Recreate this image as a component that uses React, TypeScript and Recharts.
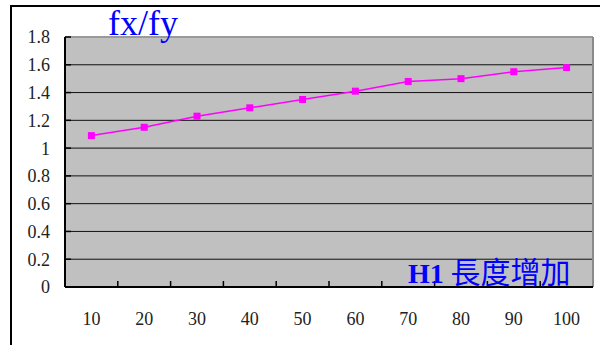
import { ComposedChart, Line, XAxis, YAxis, CartesianGrid, ReferenceLine } from 'recharts'

const lengths = ['10', '20', '30', '40', '50', '60', '70', '80', '90', '100']
const ratio = [1.09, 1.15, 1.23, 1.29, 1.35, 1.41, 1.48, 1.5, 1.55, 1.58]
const yTicks = [0, 0.2, 0.4, 0.6, 0.8, 1, 1.2, 1.4, 1.6, 1.8]
const gridValues = [0.2, 0.4, 0.6, 0.8, 1, 1.2, 1.4, 1.6]
const boundaries = [1, 2, 3, 4, 5, 6, 7, 8, 9]

// slot = middle of each category band on a 0..10 numeric scale
const data = lengths.map((len, i) => ({ len, slot: i + 0.5, ratio: ratio[i] }))

const serif = 'Liberation Serif, Times New Roman, serif'

type TickProps = { x?: number; y?: number; payload?: { value: string | number } }

function XTick({ x = 0, y = 0, payload }: TickProps) {
  return (
    <text x={x} y={y} dy="0.71em" textAnchor="middle" fontSize={18} fill="#222" style={{ fontFamily: serif }}>
      {payload?.value}
    </text>
  )
}

function YTick({ x = 0, y = 0, payload }: TickProps) {
  return (
    <text x={x} y={y} dy="0.355em" textAnchor="end" fontSize={18} fill="#222" style={{ fontFamily: serif }}>
      {payload ? String(payload.value) : ''}
    </text>
  )
}

function SquareDot(props: { cx?: number; cy?: number }) {
  const { cx, cy } = props
  if (cx == null || cy == null) return null
  return <rect x={cx - 3.5} y={cy - 3.5} width={7} height={7} fill="#FF00FF" />
}

export default function App() {
  return (
    <div style={{ position: 'fixed', left: 0, top: 0, width: 600, height: 345, overflow: 'hidden', background: '#fff' }}>
      {/* outer frame, only top and left edges fall inside */}
      <div style={{ position: 'absolute', left: 10, top: 5, width: 700, height: 500, borderTop: '2px solid #000', borderLeft: '2px solid #000' }} />
      <ComposedChart
        width={600}
        height={345}
        data={data}
        margin={{ top: 37, right: 7, bottom: 28, left: 8 }}
        style={{ position: 'absolute', left: 0, top: 0 }}
      >
        <CartesianGrid
          fill="#C0C0C0"
          stroke="#111"
          vertical={false}
          horizontalValues={gridValues}
        />
        <XAxis
          dataKey="len"
          padding={{ left: 26.4, right: 26.4 }}
          axisLine={{ stroke: '#000', strokeWidth: 2 }}
          tickLine={false}
          tickMargin={19}
          height={30}
          tick={<XTick />}
        />
        {/* category boundaries, ticks pointing into the plot */}
        <XAxis
          xAxisId="edge"
          dataKey="slot"
          type="number"
          domain={[0, 10]}
          allowDataOverflow
          ticks={boundaries}
          mirror
          height={1}
          axisLine={false}
          tickLine={{ stroke: '#000', strokeWidth: 1.5 }}
          tickSize={6}
          tick={{ fontSize: 1, fill: 'none' }}
          tickFormatter={() => ''}
        />
        <YAxis
          domain={[0, 1.8]}
          ticks={yTicks}
          width={57}
          axisLine={{ stroke: '#000', strokeWidth: 2 }}
          tickLine={{ stroke: '#000', strokeWidth: 1.5 }}
          tickSize={-6}
          tickMargin={21}
          tick={<YTick />}
        />
        <ReferenceLine y={1.8} stroke="#9a9a9a" strokeWidth={2} />
        <ReferenceLine xAxisId="edge" x={10} stroke="#8a8a8a" strokeWidth={2} />
        <Line
          dataKey="ratio"
          stroke="#FF00FF"
          strokeWidth={1.5}
          dot={<SquareDot />}
          activeDot={false}
          isAnimationActive={false}
        />
      </ComposedChart>
      <div style={{ position: 'absolute', left: 108, top: 5, fontFamily: serif, fontSize: 36, color: '#0000FF', lineHeight: 1 }}>
        fx/fy
      </div>
      <div style={{ position: 'absolute', left: 408, top: 255, fontSize: 30, color: '#0000FF', lineHeight: 1, whiteSpace: 'nowrap' }}>
        <span style={{ fontFamily: serif, fontWeight: 'bold', fontSize: 28 }}>H1</span>
        <span style={{ fontFamily: '"Noto Sans CJK TC", sans-serif' }}> 長度增加</span>
      </div>
    </div>
  )
}
